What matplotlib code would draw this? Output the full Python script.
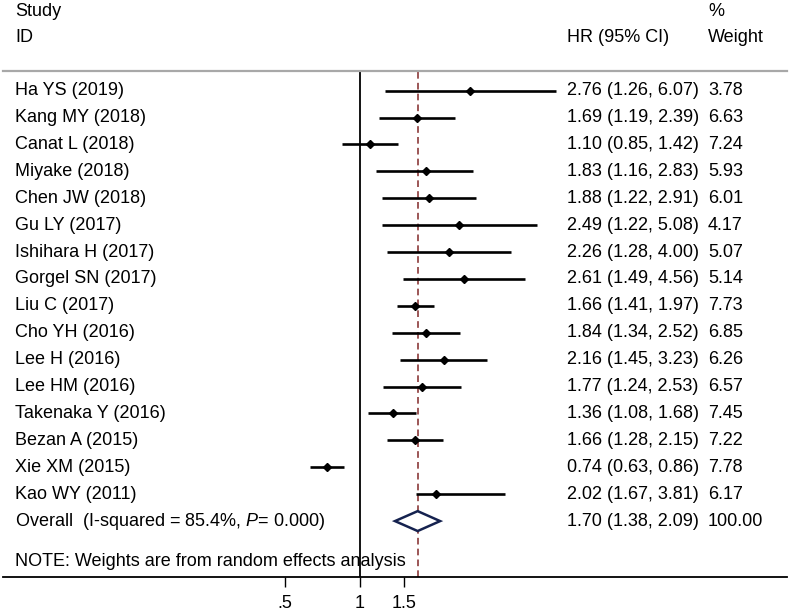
import matplotlib
matplotlib.use("Agg")
import matplotlib.pyplot as plt
from matplotlib.patches import Polygon
from matplotlib.ticker import FixedLocator, FixedFormatter, NullLocator

plt.rcParams['font.family'] = ['Liberation Sans', 'DejaVu Sans']
plt.rcParams['mathtext.fontset'] = 'custom'
plt.rcParams['mathtext.rm'] = 'Liberation Sans'
plt.rcParams['mathtext.it'] = 'Liberation Sans:italic'

# data
studies = ["Ha YS (2019)", "Kang MY (2018)", "Canat L (2018)", "Miyake (2018)",
           "Chen JW (2018)", "Gu LY (2017)", "Ishihara H (2017)", "Gorgel SN (2017)",
           "Liu C (2017)", "Cho YH (2016)", "Lee H (2016)", "Lee HM (2016)",
           "Takenaka Y (2016)", "Bezan A (2015)", "Xie XM (2015)", "Kao WY (2011)"]
hr = [2.76, 1.69, 1.10, 1.83, 1.88, 2.49, 2.26, 2.61, 1.66, 1.84, 2.16, 1.77, 1.36, 1.66, 0.74, 2.02]
lo = [1.26, 1.19, 0.85, 1.16, 1.22, 1.22, 1.28, 1.49, 1.41, 1.34, 1.45, 1.24, 1.08, 1.28, 0.63, 1.67]
hi = [6.07, 2.39, 1.42, 2.83, 2.91, 5.08, 4.00, 4.56, 1.97, 2.52, 3.23, 2.53, 1.68, 2.15, 0.86, 3.81]
weight = [3.78, 6.63, 7.24, 5.93, 6.01, 4.17, 5.07, 5.14, 7.73, 6.85, 6.26, 6.57, 7.45, 7.22, 7.78, 6.17]
pooled = (1.70, 1.38, 2.09)
pooled_weight = "100.00"
pooled_label = r"Overall  (I-squared = 85.4%, $P$= 0.000)"
note = "NOTE: Weights are from random effects analysis"
xticks = [0.5, 1, 1.5]
xticklabels = [".5", "1", "1.5"]

W, H = 790, 612
fig = plt.figure(figsize=(W / 100, H / 100), dpi=100)
# axes: x from px 3 to 787, y from px 71 (header line) to 576.5 (axis line)
ax = fig.add_axes([3 / W, (H - 576.5) / H, 784 / W, (576.5 - 71) / H])
ax.set_xscale('log')
ax.set_xlim(0.0375, 50.8)
ax.set_ylim(18.06, -0.732)

for s in ['left', 'right']:
    ax.spines[s].set_visible(False)
ax.spines['top'].set_color('#a8a8a8')
ax.spines['top'].set_linewidth(1.6)
ax.spines['bottom'].set_linewidth(1.3)
ax.yaxis.set_visible(False)
ax.xaxis.set_major_locator(FixedLocator(xticks))
ax.xaxis.set_major_formatter(FixedFormatter(xticklabels))
ax.xaxis.set_minor_locator(NullLocator())
ax.tick_params(axis='x', direction='out', length=7, width=1, pad=6, labelsize=13)

fs = 13
ax.axvline(1, color='black', lw=1.3, zorder=1)
ax.axvline(pooled[0], color='#8b3a3a', lw=1.2, ls=(0, (4, 2.5)), zorder=1)

ytr = ax.get_yaxis_transform()
x_name, x_hr, x_w = 12 / 784, 564 / 784, 705 / 784

for i, name in enumerate(studies):
    ax.plot([lo[i], hi[i]], [i, i], color='black', lw=1.9, solid_capstyle='butt', zorder=2)
    ax.plot(hr[i], i, marker='D', color='black', markersize=4.5, zorder=3)
    ax.text(x_name, i, name, transform=ytr, va='center', ha='left', fontsize=fs)
    ax.text(x_hr, i, f"{hr[i]:.2f} ({lo[i]:.2f}, {hi[i]:.2f})", transform=ytr,
            va='center', ha='left', fontsize=fs)
    ax.text(x_w, i, f"{weight[i]:.2f}", transform=ytr, va='center', ha='left', fontsize=fs)

# pooled estimate
k = len(studies)
est, plo, phi = pooled
dia = Polygon([(plo, k), (est, k - 0.37), (phi, k), (est, k + 0.37)], closed=True,
              facecolor='white', edgecolor='#15224f', lw=1.8, zorder=3)
ax.add_patch(dia)
ax.text(x_name, k, pooled_label, transform=ytr, va='center', ha='left', fontsize=fs)
ax.text(x_hr, k, f"{est:.2f} ({plo:.2f}, {phi:.2f})", transform=ytr, va='center', ha='left', fontsize=fs)
ax.text(x_w, k, pooled_weight, transform=ytr, va='center', ha='left', fontsize=fs)

ax.text(x_name, 17.52, note, transform=ytr, va='center', ha='left', fontsize=fs)

# header
ax.text(x_name, -2.93, "Study", transform=ytr, va='center', ha='left', fontsize=fs)
ax.text(x_name, -1.96, "ID", transform=ytr, va='center', ha='left', fontsize=fs)
ax.text(x_hr, -1.96, "HR (95% CI)", transform=ytr, va='center', ha='left', fontsize=fs)
ax.text(x_w, -2.93, "%", transform=ytr, va='center', ha='left', fontsize=fs)
ax.text(x_w, -1.96, "Weight", transform=ytr, va='center', ha='left', fontsize=fs)

fig.savefig("out.png", dpi=100)
